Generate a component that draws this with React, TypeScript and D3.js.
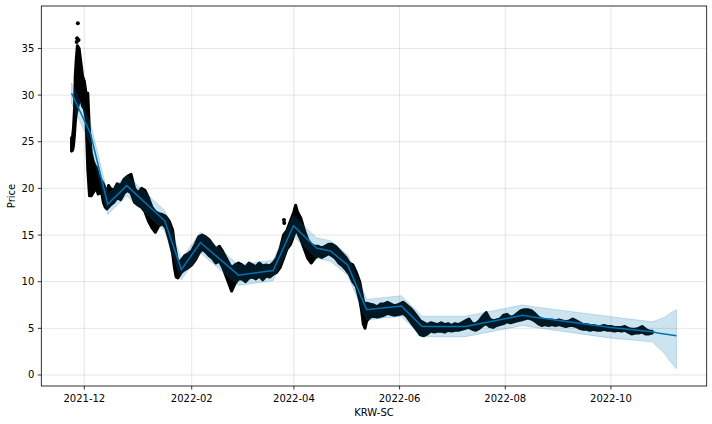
import * as d3 from "d3"

// observed price envelope (low / high of the hourly points per day)
const obsDates = [
  "2021-11-23T15", "2021-11-24T06", "2021-11-24T18", "2021-11-25T08", "2021-11-25T18", "2021-11-26T08",
  "2021-11-27", "2021-11-28", "2021-11-29", "2021-11-30", "2021-12-01", "2021-12-02", "2021-12-03",
  "2021-12-04", "2021-12-05", "2021-12-06", "2021-12-07", "2021-12-08", "2021-12-09", "2021-12-10",
  "2021-12-11", "2021-12-12", "2021-12-13", "2021-12-14", "2021-12-15", "2021-12-16", "2021-12-18",
  "2021-12-20", "2021-12-22", "2021-12-24", "2021-12-26", "2021-12-28", "2021-12-30", "2022-01-01",
  "2022-01-03", "2022-01-05", "2022-01-07", "2022-01-09", "2022-01-11", "2022-01-13", "2022-01-15",
  "2022-01-17", "2022-01-19", "2022-01-21", "2022-01-22", "2022-01-23", "2022-01-24", "2022-01-26",
  "2022-01-28", "2022-01-30", "2022-02-01", "2022-02-03", "2022-02-05", "2022-02-07", "2022-02-09",
  "2022-02-11", "2022-02-13", "2022-02-15", "2022-02-17", "2022-02-19", "2022-02-21", "2022-02-23",
  "2022-02-24", "2022-02-26", "2022-02-28", "2022-03-02", "2022-03-04", "2022-03-06", "2022-03-08",
  "2022-03-10", "2022-03-12", "2022-03-14", "2022-03-16", "2022-03-18", "2022-03-20", "2022-03-22",
  "2022-03-24", "2022-03-26", "2022-03-28", "2022-03-30", "2022-04-01", "2022-04-02", "2022-04-03",
  "2022-04-05", "2022-04-07", "2022-04-09", "2022-04-11", "2022-04-13", "2022-04-15", "2022-04-17",
  "2022-04-19", "2022-04-21", "2022-04-23", "2022-04-25", "2022-04-27", "2022-04-29", "2022-05-01",
  "2022-05-03", "2022-05-05", "2022-05-07", "2022-05-09", "2022-05-10", "2022-05-11", "2022-05-12",
  "2022-05-13", "2022-05-15", "2022-05-17", "2022-05-19", "2022-05-21", "2022-05-23", "2022-05-25",
  "2022-05-27", "2022-05-29", "2022-06-01", "2022-06-03", "2022-06-05", "2022-06-07", "2022-06-09",
  "2022-06-11", "2022-06-13", "2022-06-15", "2022-06-17", "2022-06-19", "2022-06-21", "2022-06-23",
  "2022-06-25", "2022-06-27", "2022-06-29", "2022-07-01", "2022-07-03", "2022-07-05", "2022-07-07",
  "2022-07-09", "2022-07-11", "2022-07-13", "2022-07-15", "2022-07-17", "2022-07-19", "2022-07-21",
  "2022-07-23", "2022-07-25", "2022-07-27", "2022-07-29", "2022-07-31", "2022-08-02", "2022-08-04",
  "2022-08-06", "2022-08-08", "2022-08-10", "2022-08-12", "2022-08-14", "2022-08-16", "2022-08-18",
  "2022-08-20", "2022-08-22", "2022-08-24", "2022-08-26", "2022-08-28", "2022-08-30", "2022-09-01",
  "2022-09-03", "2022-09-05", "2022-09-07", "2022-09-09", "2022-09-11", "2022-09-13", "2022-09-15",
  "2022-09-17", "2022-09-19", "2022-09-21", "2022-09-23", "2022-09-25", "2022-09-27", "2022-09-29",
  "2022-10-01", "2022-10-03", "2022-10-05", "2022-10-07", "2022-10-09", "2022-10-11", "2022-10-13",
  "2022-10-15", "2022-10-17", "2022-10-19", "2022-10-21", "2022-10-23", "2022-10-24T20",
]
const obsLow = [
  24.0, 24.1, 24.6, 25.8, 27.0, 28.0,
  28.5, 29.5, 29.5, 28.8, 28.5, 27.5, 22.0,
  19.2, 19.2, 19.5, 19.8, 20.0, 19.4, 19.5,
  19.6, 18.5, 18.0, 17.8, 18.0, 18.2, 18.5,
  19.0, 18.8, 19.5, 19.8, 19.5, 18.5, 18.2,
  18.0, 17.5, 16.5, 15.8, 15.3, 16.0, 16.2,
  15.8, 14.5, 13.0, 11.5, 10.5, 10.4, 11.0,
  11.3, 11.5, 11.8, 12.3, 13.0, 13.5, 13.2,
  12.8, 12.5, 12.0, 12.2, 11.5, 10.5, 9.5,
  9.0, 9.8, 10.3, 10.3, 10.0, 10.4, 10.5,
  10.3, 10.6, 10.2, 10.6, 10.5, 10.8, 11.0,
  11.5, 12.5, 13.5, 14.0, 15.0, 15.5, 15.3,
  14.5, 13.5, 12.5, 12.0, 12.5, 12.8, 12.6,
  12.8, 13.0, 12.8, 12.5, 12.0, 11.7, 11.3,
  10.8, 10.0, 9.5, 8.0, 7.0, 5.5, 5.0,
  5.8, 6.2, 6.3, 6.2, 6.3, 6.4, 6.6,
  6.5, 6.4, 6.5, 6.6, 6.3, 5.8, 5.3,
  4.8, 4.3, 4.2, 4.4, 4.7, 4.6, 4.7,
  4.7, 4.6, 4.8, 4.7, 4.8, 4.8, 4.9,
  5.0, 5.1, 4.9, 4.8, 5.0, 5.3, 5.5,
  5.2, 5.1, 5.3, 5.4, 5.5, 5.7, 5.6,
  5.7, 5.8, 5.9, 6.0, 6.1, 6.0, 5.8,
  5.5, 5.3, 5.4, 5.3, 5.4, 5.3, 5.4,
  5.3, 5.2, 5.3, 5.3, 5.2, 5.0, 4.9,
  4.9, 4.8, 4.9, 4.8, 4.8, 4.9, 4.8,
  4.8, 4.7, 4.8, 4.7, 4.8, 4.6, 4.4,
  4.5, 4.5, 4.6, 4.4, 4.4, 4.5,
]
const obsHigh = [
  25.4, 25.6, 26.5, 28.5, 32.0, 33.8,
  35.3, 35.0, 33.5, 32.0, 31.5, 30.2, 30.2,
  26.0, 23.8, 23.0, 22.5, 22.2, 21.5, 21.0,
  20.8, 20.5, 20.0, 19.3, 20.3, 20.0, 19.8,
  20.5, 20.3, 21.0, 21.3, 21.5, 20.0, 19.5,
  20.0, 19.8, 19.0, 18.0, 17.5, 17.3, 17.2,
  17.0, 16.5, 15.5, 14.0, 13.0, 12.0, 12.3,
  12.8, 13.0, 13.3, 14.0, 14.8, 15.0, 14.8,
  14.5, 14.0, 13.5, 13.8, 13.2, 12.5, 11.8,
  11.5, 11.8, 12.0, 11.8, 11.5, 12.0, 11.8,
  11.6, 12.0, 11.7, 11.8, 11.7, 12.0, 12.5,
  13.5, 15.0, 15.5, 16.5, 17.5, 18.2, 17.5,
  16.8, 15.5, 14.5, 14.0, 13.8, 13.8, 13.6,
  13.8, 14.0, 14.0, 13.8, 13.4, 13.0, 12.6,
  12.0, 11.8, 11.0, 10.0, 9.0, 8.0, 7.5,
  7.7, 7.6, 7.5, 7.3, 7.6, 7.6, 7.8,
  7.6, 7.4, 7.6, 7.8, 7.5, 7.2, 6.8,
  6.3, 5.8, 5.6, 5.4, 5.6, 5.5, 5.4,
  5.6, 5.4, 5.5, 5.3, 5.5, 5.4, 5.6,
  5.8, 6.0, 5.5, 5.5, 5.8, 6.3, 6.7,
  6.0, 5.8, 5.9, 6.0, 6.4, 6.5, 6.2,
  6.3, 6.6, 6.9, 7.0, 7.0, 6.9, 6.6,
  6.2, 6.0, 5.9, 5.9, 5.9, 5.8, 5.9,
  5.8, 5.7, 5.8, 6.0, 5.8, 5.6, 5.4,
  5.4, 5.3, 5.3, 5.2, 5.2, 5.3, 5.2,
  5.2, 5.1, 5.1, 5.1, 5.2, 5.0, 4.9,
  4.9, 5.0, 5.2, 4.9, 4.7, 4.7,
]
// isolated observed points outside the envelope
const outlierDates = ["2021-11-27T06", "2021-11-26T20", "2021-11-26T14", "2021-11-27T16", "2022-03-26T06", "2022-03-26T10"]
const outlierValues = [37.7, 36.1, 35.7, 35.9, 16.6, 16.3]

// prophet forecast
const fcDates = [
  "2021-11-23T15", "2021-12-04T12", "2021-12-14T12", "2021-12-25T12", "2022-01-16T12", "2022-01-26",
  "2022-02-06", "2022-02-28", "2022-03-20", "2022-03-31T18", "2022-04-14", "2022-04-22", "2022-05-02",
  "2022-05-13", "2022-06-02", "2022-06-14", "2022-07-09", "2022-08-11", "2022-08-16", "2022-10-01",
  "2022-10-24T20", "2022-10-28", "2022-11-01", "2022-11-04", "2022-11-07T20",
]
const yhat = [30.2, 25.9, 18.3, 20.3, 16.5, 11.3, 14.2, 10.7, 11.2, 16.0, 13.6, 13.3, 11.8, 7.0, 7.4, 5.2, 5.2, 6.4, 6.25, 5.1, 4.64, 4.5, 4.4, 4.3, 4.2]
const yhatUpper = [31.3, 27.0, 19.4, 21.4, 17.6, 12.4, 15.3, 11.8, 12.3, 17.1, 14.7, 14.4, 12.9, 8.1, 8.5, 6.3, 6.3, 7.5, 7.35, 6.25, 5.7, 5.9, 6.2, 6.6, 7.0]
const yhatLower = [29.1, 24.8, 17.2, 19.2, 15.4, 10.2, 13.1, 9.6, 10.1, 14.9, 12.5, 12.2, 10.7, 5.9, 6.3, 4.1, 4.1, 5.3, 5.15, 3.95, 3.55, 3.0, 2.3, 1.5, 0.67]

const xTickLabels = ["2021-12", "2022-02", "2022-04", "2022-06", "2022-08", "2022-10"]
const yTicks = [0, 5, 10, 15, 20, 25, 30, 35]

const W = 712
const H = 424
const left = 41.3
const right = 706.7
const top = 6
const bottom = 386
const font = "DejaVu Sans, sans-serif"
const blue = "#0072B2"

const parseHour = d3.timeParse("%Y-%m-%dT%H")
const parseDay = d3.timeParse("%Y-%m-%d")
const parse = (s: string) => parseHour(s) ?? parseDay(s)!

export default function App() {
  const obs = obsDates.map((d, i) => ({ date: parse(d), low: obsLow[i], high: obsHigh[i] }))
  const outliers = outlierDates.map((d, i) => ({ date: parse(d), value: outlierValues[i] }))
  const fc = fcDates.map((d, i) => ({ date: parse(d), yhat: yhat[i], lo: yhatLower[i], hi: yhatUpper[i] }))

  // matplotlib-style 5% margins
  const allDates = [...obs.map((d) => d.date), ...fc.map((d) => d.date)]
  const [d0, d1] = d3.extent(allDates) as [Date, Date]
  const span = +d1 - +d0
  const x = d3
    .scaleTime()
    .domain([new Date(+d0 - span * 0.05), new Date(+d1 + span * 0.05)])
    .range([left, right])

  const allVals = [...obsLow, ...obsHigh, ...outlierValues, ...yhatLower, ...yhatUpper]
  const [v0, v1] = d3.extent(allVals) as [number, number]
  const vspan = v1 - v0
  const y = d3
    .scaleLinear()
    .domain([v0 - vspan * 0.05, v1 + vspan * 0.05])
    .range([bottom, top])

  const obsArea = d3
    .area<(typeof obs)[number]>()
    .x((d) => x(d.date))
    .y0((d) => y(d.low))
    .y1((d) => y(d.high))

  const band = d3
    .area<(typeof fc)[number]>()
    .x((d) => x(d.date))
    .y0((d) => y(d.lo))
    .y1((d) => y(d.hi))

  const line = d3
    .line<(typeof fc)[number]>()
    .x((d) => x(d.date))
    .y((d) => y(d.yhat))

  const xTicks = xTickLabels.map((s) => ({ label: s, date: d3.timeParse("%Y-%m")(s)! }))

  return (
    <svg
      width={W}
      height={H}
      style={{ position: "absolute", left: 0, top: 0, background: "#fff" }}
      fontFamily={font}
    >
      <defs>
        <clipPath id="plot">
          <rect x={left} y={top} width={right - left} height={bottom - top} />
        </clipPath>
      </defs>

      {/* grid */}
      <g stroke="#808080" strokeOpacity={0.2} strokeWidth={1}>
        {xTicks.map((t) => (
          <line key={t.label} x1={x(t.date)} x2={x(t.date)} y1={top} y2={bottom} />
        ))}
        {yTicks.map((t) => (
          <line key={t} x1={left} x2={right} y1={y(t)} y2={y(t)} />
        ))}
      </g>

      <g clipPath="url(#plot)">
        {/* observed points */}
        <path d={obsArea(obs) ?? ""} fill="#000" stroke="#000" strokeWidth={3} strokeLinejoin="round" />
        {outliers.map((d, i) => (
          <circle key={i} cx={x(d.date)} cy={y(d.value)} r={2} fill="#000" />
        ))}
        {/* forecast */}
        <path d={line(fc) ?? ""} fill="none" stroke={blue} strokeWidth={1.5} />
        <path d={band(fc) ?? ""} fill={blue} fillOpacity={0.2} stroke={blue} strokeOpacity={0.2} strokeWidth={1} />
      </g>

      {/* spines */}
      <rect x={left} y={top} width={right - left} height={bottom - top} fill="none" stroke="#000" strokeWidth={0.8} />

      {/* x axis */}
      <g fontSize={10} textAnchor="middle" fill="#000">
        {xTicks.map((t) => (
          <g key={t.label} transform={`translate(${x(t.date)},${bottom})`}>
            <line y2={3.5} stroke="#000" strokeWidth={0.8} />
            <text y={16}>{t.label}</text>
          </g>
        ))}
      </g>
      {/* y axis */}
      <g fontSize={10} textAnchor="end" fill="#000">
        {yTicks.map((t) => (
          <g key={t} transform={`translate(${left},${y(t)})`}>
            <line x2={-3.5} stroke="#000" strokeWidth={0.8} />
            <text x={-7} dy="0.35em">{t}</text>
          </g>
        ))}
      </g>

      <text x={(left + right) / 2} y={416} fontSize={10} textAnchor="middle">
        KRW-SC
      </text>
      <text transform={`translate(15,${(top + bottom) / 2}) rotate(-90)`} fontSize={10} textAnchor="middle">
        Price
      </text>
    </svg>
  )
}
